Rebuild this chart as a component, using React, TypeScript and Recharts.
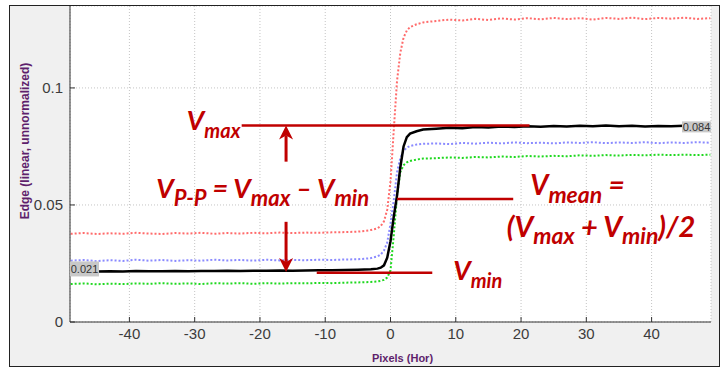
import React from 'react';
import { LineChart, Line, XAxis, YAxis, CartesianGrid, ReferenceLine, ReferenceDot } from 'recharts';

// sample positions (pixels, horizontal), denser around the edge
const pixels = [
  -49, -47, -45, -43, -41, -39, -37, -35, -33, -31, -29, -27, -25, -23, -21, -19, -17, -15, -13, -11, -9, -7, -5,
  -4, -3, -2, -1.5, -1, -0.5, 0, 0.5, 1, 1.5, 2, 2.5, 3, 4, 5,
  7, 9, 11, 13, 15, 17, 19, 21, 23, 25, 27, 29, 31, 33, 35, 37, 39, 41, 43, 45, 47, 49,
];

// mean edge (black)
const edgeMean = [
  0.0216, 0.0217, 0.0216, 0.0217, 0.0216, 0.0218, 0.0217, 0.0217, 0.0218, 0.0217, 0.0218, 0.0218, 0.0219, 0.0218, 0.0219, 0.0219, 0.0220, 0.0219, 0.0220, 0.0221, 0.0221, 0.0222, 0.0223,
  0.0224, 0.0225, 0.0228, 0.0232, 0.0242, 0.0275, 0.0345, 0.0450, 0.0540, 0.0660, 0.0750, 0.0790, 0.0805, 0.0815, 0.0822,
  0.0826, 0.0830, 0.0828, 0.0833, 0.0831, 0.0835, 0.0833, 0.0836, 0.0834, 0.0837, 0.0835, 0.0838, 0.0836, 0.0839, 0.0836, 0.0838, 0.0835, 0.0837, 0.0836, 0.0838, 0.0840, 0.0840,
];

// red channel
const edgeRed = [
  0.0377, 0.0380, 0.0376, 0.0379, 0.0377, 0.0381, 0.0378, 0.0376, 0.0380, 0.0378, 0.0381, 0.0377, 0.0380, 0.0378, 0.0381, 0.0379, 0.0382, 0.0380, 0.0382, 0.0381, 0.0383, 0.0384, 0.0386,
  0.0389, 0.0393, 0.0400, 0.0410, 0.0430, 0.0480, 0.0600, 0.0820, 0.1030, 0.1150, 0.1215, 0.1245, 0.1260, 0.1272, 0.1280,
  0.1286, 0.1292, 0.1288, 0.1295, 0.1290, 0.1297, 0.1292, 0.1298, 0.1293, 0.1299, 0.1294, 0.1298, 0.1292, 0.1299, 0.1295, 0.1300, 0.1294, 0.1299, 0.1296, 0.1300, 0.1295, 0.1298,
];

// blue channel
const edgeBlue = [
  0.0262, 0.0265, 0.0260, 0.0264, 0.0261, 0.0266, 0.0262, 0.0265, 0.0261, 0.0264, 0.0262, 0.0266, 0.0263, 0.0265, 0.0262, 0.0266, 0.0263, 0.0265, 0.0264, 0.0266, 0.0265, 0.0267, 0.0268,
  0.0270, 0.0273, 0.0280, 0.0288, 0.0305, 0.0340, 0.0420, 0.0520, 0.0640, 0.0700, 0.0730, 0.0745, 0.0752, 0.0758, 0.0761,
  0.0763, 0.0760, 0.0765, 0.0762, 0.0766, 0.0763, 0.0767, 0.0764, 0.0766, 0.0763, 0.0767, 0.0765, 0.0768, 0.0764, 0.0767, 0.0765, 0.0768, 0.0764, 0.0767, 0.0765, 0.0768, 0.0766,
];

// green channel
const edgeGreen = [
  0.0162, 0.0165, 0.0161, 0.0164, 0.0162, 0.0165, 0.0163, 0.0166, 0.0163, 0.0165, 0.0162, 0.0166, 0.0164, 0.0166, 0.0163, 0.0166, 0.0164, 0.0166, 0.0165, 0.0167, 0.0166, 0.0168, 0.0169,
  0.0170, 0.0171, 0.0173, 0.0176, 0.0180, 0.0190, 0.0220, 0.0370, 0.0540, 0.0640, 0.0670, 0.0682, 0.0688, 0.0694, 0.0698,
  0.0700, 0.0703, 0.0701, 0.0705, 0.0703, 0.0707, 0.0705, 0.0709, 0.0707, 0.0710, 0.0708, 0.0712, 0.0710, 0.0713, 0.0711, 0.0714, 0.0712, 0.0715, 0.0713, 0.0715, 0.0713, 0.0715,
];

const xTicks = [-40, -30, -20, -10, 0, 10, 20, 30, 40];
const yTicks = [0, 0.05, 0.1];

const V_MAX = 0.084;
const V_MIN = 0.021;
const V_MEAN = (V_MAX + V_MIN) / 2;

const data = pixels.map((px, i) => ({
  px,
  red: edgeRed[i],
  blue: edgeBlue[i],
  green: edgeGreen[i],
  mean: edgeMean[i],
}));

const RED = '#c00000';
const PURPLE = '#5e1f6c';
const AXIS = '#333';
const TICK_FONT = '"Liberation Sans", Arial, sans-serif';

const XTick = (p: any) => (
  <g>
    <line x1={p.x} x2={p.x} y1={p.y - 6} y2={p.y - 11} stroke={AXIS} />
    <text x={p.x} y={p.y} dy="0.71em" textAnchor="middle" fontSize={15} fill="#3c3c3c" fontFamily={TICK_FONT}>
      {p.payload.value}
    </text>
  </g>
);

const YTick = (p: any) => (
  <g>
    <line x1={p.x + 7} x2={p.x + 12} y1={p.y} y2={p.y} stroke={AXIS} />
    <text x={p.x} y={p.y} dy="0.355em" textAnchor="end" fontSize={15} fill="#3c3c3c" fontFamily={TICK_FONT}>
      {String(p.payload.value)}
    </text>
  </g>
);

const RightTick = (p: any) => <line x1={p.x} x2={p.x - 5} y1={p.y} y2={p.y} stroke={AXIS} />;

// [text, isSubscript]
type Part = [string, boolean];

const Formula = ({ cx, cy, parts, size = 27, sub = 20, shift = 8 }: { cx: number; cy: number; parts: Part[]; size?: number; sub?: number; shift?: number }) => {
  let prevSub = false;
  return (
    <text x={cx} y={cy} fill={RED} fontFamily="Lato, 'Open Sans', sans-serif" fontWeight={700} fontStyle="italic">
      {parts.map(([t, isSub], i) => {
        const dy = isSub === prevSub ? 0 : isSub ? shift : -shift;
        prevSub = isSub;
        return (
          <tspan key={i} dy={dy} fontSize={isSub ? sub : size} style={{ whiteSpace: 'pre' }}>
            {t}
          </tspan>
        );
      })}
    </text>
  );
};

const Arrow = (p: any) => {
  const { x1, y1, x2, y2 } = p;
  const dir = y2 < y1 ? -1 : 1;
  const head = 14;
  const half = 7;
  const baseY = y2 - dir * head;
  const notchY = y2 - dir * (head - 4);
  return (
    <g>
      <line x1={x1} y1={y1} x2={x2} y2={notchY} stroke={RED} strokeWidth={3} />
      <polygon points={`${x2},${y2} ${x2 + half},${baseY} ${x2},${notchY} ${x2 - half},${baseY}`} fill={RED} />
    </g>
  );
};

const DataTip = ({ cx, cy, text, align }: { cx: number; cy: number; text: string; align: 'left' | 'right' }) => {
  const w = 29;
  const x = align === 'left' ? cx : cx - w;
  const top = align === 'left' ? cy - 10 : cy - 4;
  const h = align === 'left' ? 15 : 11;
  return (
    <g>
      <rect x={x} y={top} width={w} height={h} fill="#c8c8c8" />
      <text x={x + w / 2} y={top + h / 2} dy="0.36em" textAnchor="middle" fontSize={11} fill="#333" fontFamily={TICK_FONT}>
        {text}
      </text>
    </g>
  );
};

const yLabel = (p: any) => {
  const vb = p.viewBox;
  return (
    <text
      x={vb.x + 15}
      y={vb.y + 135}
      transform={`rotate(-90, ${vb.x + 15}, ${vb.y + 135})`}
      textAnchor="middle"
      dominantBaseline="central"
      fontSize={12}
      fontWeight={700}
      fill={PURPLE}
      fontFamily={TICK_FONT}
    >
      Edge (linear, unnormalized)
    </text>
  );
};

const xLabel = (p: any) => {
  const vb = p.viewBox;
  return (
    <text x={vb.x + vb.width / 2 + 12} y={vb.y + 40} textAnchor="middle" fontSize={11} fontWeight={700} fill={PURPLE} fontFamily={TICK_FONT}>
      Pixels (Hor)
    </text>
  );
};

export default function App() {
  return (
    <div
      style={{
        position: 'absolute',
        left: 9,
        top: 5,
        width: 711,
        height: 362,
        boxSizing: 'border-box',
        border: '1px solid #222',
        background: '#f0f0f0',
      }}
    >
      <LineChart width={709} height={360} data={data} margin={{ top: 0, right: 8, bottom: 0, left: 0 }}>
        <CartesianGrid fill="#fff" stroke="#c4c4c4" strokeDasharray="1 2" />
        <XAxis
          type="number"
          dataKey="px"
          domain={[-49.1, 49.1]}
          ticks={xTicks}
          allowDataOverflow
          height={44}
          tickLine={false}
          tickSize={0}
          tickMargin={6}
          axisLine={{ stroke: AXIS }}
          tick={<XTick />}
          label={xLabel}
        />
        <YAxis
          type="number"
          domain={[0, 0.135]}
          ticks={yTicks}
          allowDataOverflow
          width={60}
          tickLine={false}
          tickSize={0}
          tickMargin={7}
          axisLine={{ stroke: AXIS }}
          tick={<YTick />}
          label={yLabel}
        />
        <YAxis
          yAxisId="r"
          orientation="right"
          type="number"
          domain={[0, 0.135]}
          ticks={yTicks}
          allowDataOverflow
          width={0}
          tickLine={false}
          tickSize={0}
          tickMargin={0}
          axisLine={{ stroke: '#555' }}
          tick={<RightTick />}
        />
        <Line type="linear" dataKey="red" stroke="#ff6b6b" strokeWidth={2} strokeDasharray="2 2" dot={false} isAnimationActive={false} />
        <Line type="linear" dataKey="blue" stroke="#8a8aff" strokeWidth={2} strokeDasharray="2 2" dot={false} isAnimationActive={false} />
        <Line type="linear" dataKey="green" stroke="#1fd81f" strokeWidth={2} strokeDasharray="2 2" dot={false} isAnimationActive={false} />
        <Line type="linear" dataKey="mean" stroke="#000" strokeWidth={2.5} dot={false} isAnimationActive={false} />

        <ReferenceLine segment={[{ x: -22.8, y: V_MAX }, { x: 21.3, y: V_MAX }]} stroke={RED} strokeWidth={2.5} />
        <ReferenceLine segment={[{ x: 1.0, y: V_MEAN }, { x: 18.8, y: V_MEAN }]} stroke={RED} strokeWidth={2.5} />
        <ReferenceLine segment={[{ x: -11.3, y: V_MIN }, { x: 6.4, y: V_MIN }]} stroke={RED} strokeWidth={2.5} />
        <ReferenceLine segment={[{ x: -16, y: 0.0685 }, { x: -16, y: V_MAX }]} shape={Arrow} />
        <ReferenceLine segment={[{ x: -16, y: 0.0428 }, { x: -16, y: 0.0214 }]} shape={Arrow} />

        <ReferenceDot x={-31.2} y={0.082} r={0} shape={(p: any) => <Formula cx={p.cx} cy={p.cy} parts={[['V', false], ['max', true]]} />} />
        <ReferenceDot
          x={-35.9}
          y={0.0528}
          r={0}
          shape={(p: any) => (
            <Formula
              cx={p.cx}
              cy={p.cy}
              sub={22}
              parts={[['V', false], ['P-P', true], [' = V', false], ['max', true], [' – V', false], ['min', true]]}
            />
          )}
        />
        <ReferenceDot
          x={21.4}
          y={0.0543}
          r={0}
          shape={(p: any) => <Formula cx={p.cx} cy={p.cy} size={28} sub={23} parts={[['V', false], ['mean', true], [' =', false]]} />}
        />
        <ReferenceDot
          x={17.8}
          y={0.0364}
          r={0}
          shape={(p: any) => (
            <Formula cx={p.cx} cy={p.cy} size={29} sub={23} shift={7} parts={[['(V', false], ['max', true], [' + V', false], ['min', true], [')/2', false]]} />
          )}
        />
        <ReferenceDot x={9.6} y={0.0179} r={0} shape={(p: any) => <Formula cx={p.cx} cy={p.cy} parts={[['V', false], ['min', true]]} />} />

        <ReferenceDot x={-49.1} y={edgeMean[0]} r={0} shape={(p: any) => <DataTip cx={p.cx} cy={p.cy} text={V_MIN.toFixed(3)} align="left" />} />
        <ReferenceDot x={49.1} y={V_MAX} r={0} shape={(p: any) => <DataTip cx={p.cx} cy={p.cy} text={V_MAX.toFixed(3)} align="right" />} />
      </LineChart>
    </div>
  );
}
